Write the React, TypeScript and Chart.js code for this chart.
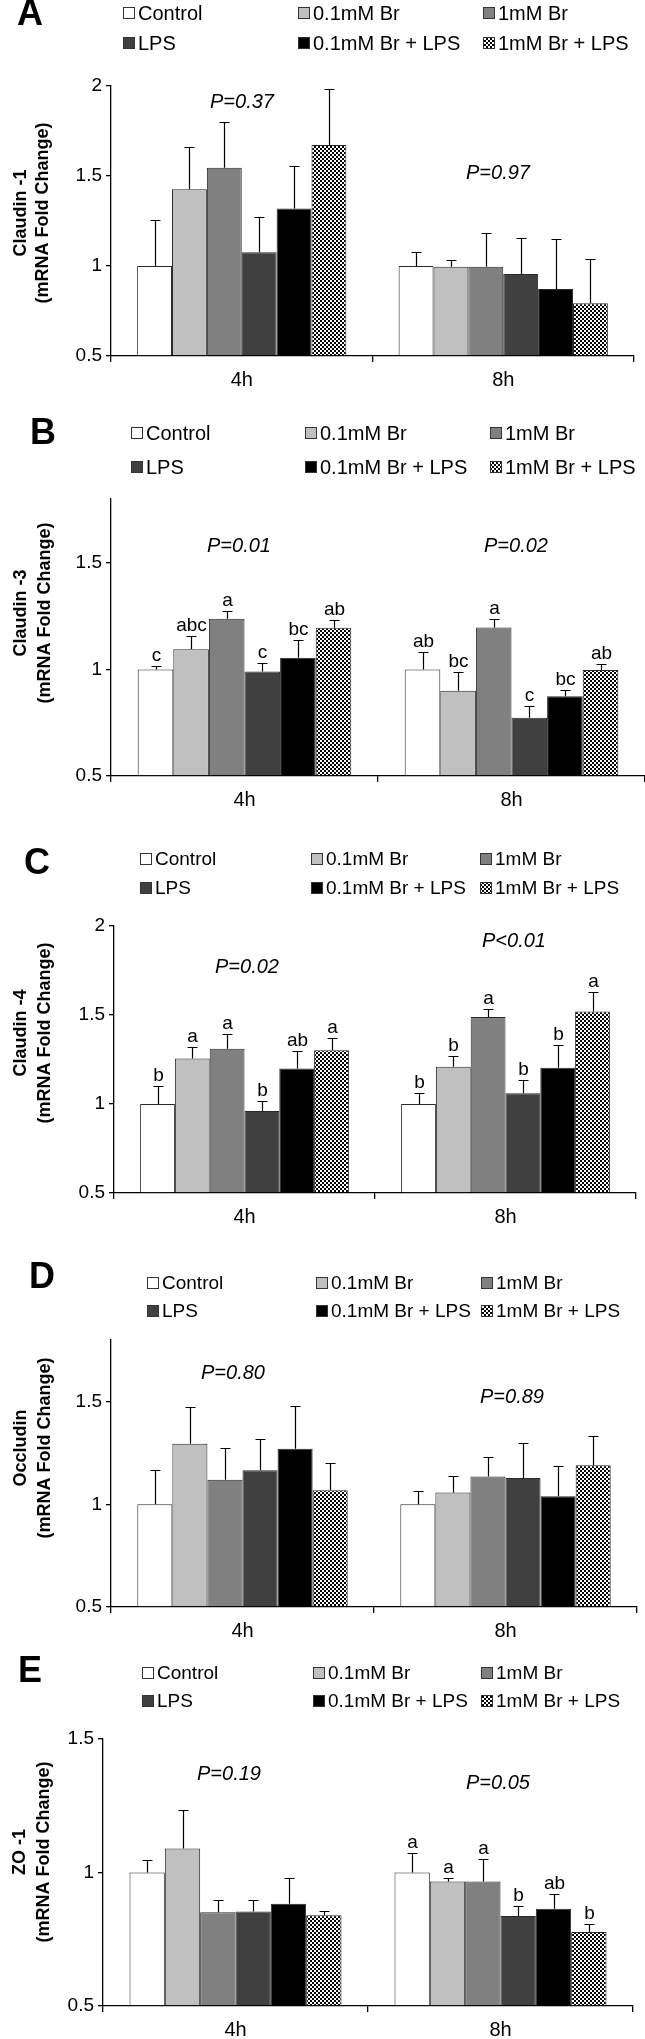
import React, { useEffect, useRef } from 'react';
import { Chart, registerables } from 'chart.js';

Chart.register(...registerables);

const FONT = "'Liberation Sans', Arial, Helvetica, sans-serif";

// ---------- shared ----------
const CATEGORIES = ['4h', '8h'];
const SERIES = ['Control', '0.1mM Br', '1mM Br', 'LPS', '0.1mM Br + LPS', '1mM Br + LPS'];
const SERIES_COLORS = ['#FFFFFF', '#C0C0C0', '#808080', '#404040', '#000000', 'checker'];

// ---------- A: Claudin-1 ----------
const CLDN1_MEAN_4H = [1.0, 1.426, 1.546, 1.076, 1.319, 1.672];
const CLDN1_SE_4H = [0.256, 0.237, 0.254, 0.198, 0.238, 0.309];
const CLDN1_MEAN_8H = [1.0, 0.996, 0.996, 0.956, 0.872, 0.793];
const CLDN1_SE_8H = [0.076, 0.035, 0.185, 0.2, 0.278, 0.244];
const CLDN1_LETTERS_4H = ['', '', '', '', '', ''];
const CLDN1_LETTERS_8H = ['', '', '', '', '', ''];
const CLDN1_P = ['P=0.37', 'P=0.97'];
const CLDN1_TICKS = [0.5, 1, 1.5, 2];

// ---------- B: Claudin-3 ----------
const CLDN3_MEAN_4H = [1.0, 1.095, 1.238, 0.99, 1.055, 1.196];
const CLDN3_SE_4H = [0.016, 0.063, 0.035, 0.04, 0.081, 0.037];
const CLDN3_MEAN_8H = [1.0, 0.9, 1.197, 0.773, 0.874, 0.997];
const CLDN3_SE_8H = [0.08, 0.09, 0.038, 0.057, 0.031, 0.03];
const CLDN3_LETTERS_4H = ['c', 'abc', 'a', 'c', 'bc', 'ab'];
const CLDN3_LETTERS_8H = ['ab', 'bc', 'a', 'c', 'bc', 'ab'];
const CLDN3_P = ['P=0.01', 'P=0.02'];
const CLDN3_TICKS = [0.5, 1, 1.5];

// ---------- C: Claudin-4 ----------
const CLDN4_MEAN_4H = [1.0, 1.256, 1.31, 0.96, 1.2, 1.302];
const CLDN4_SE_4H = [0.1, 0.064, 0.083, 0.057, 0.095, 0.066];
const CLDN4_MEAN_8H = [1.0, 1.209, 1.489, 1.06, 1.204, 1.519];
const CLDN4_SE_8H = [0.06, 0.059, 0.046, 0.076, 0.129, 0.111];
const CLDN4_LETTERS_4H = ['b', 'a', 'a', 'b', 'ab', 'a'];
const CLDN4_LETTERS_8H = ['b', 'b', 'a', 'b', 'b', 'a'];
const CLDN4_P = ['P=0.02', 'P<0.01'];
const CLDN4_TICKS = [0.5, 1, 1.5, 2];

// ---------- D: Occludin ----------
const OCLN_MEAN_4H = [1.0, 1.295, 1.12, 1.166, 1.27, 1.068];
const OCLN_SE_4H = [0.166, 0.179, 0.156, 0.154, 0.209, 0.132];
const OCLN_MEAN_8H = [1.0, 1.058, 1.136, 1.128, 1.039, 1.19];
const OCLN_SE_8H = [0.067, 0.082, 0.094, 0.172, 0.149, 0.143];
const OCLN_LETTERS_4H = ['', '', '', '', '', ''];
const OCLN_LETTERS_8H = ['', '', '', '', '', ''];
const OCLN_P = ['P=0.80', 'P=0.89'];
const OCLN_TICKS = [0.5, 1, 1.5];

// ---------- E: ZO-1 ----------
const ZO1_MEAN_4H = [1.0, 1.09, 0.851, 0.854, 0.8825, 0.84];
const ZO1_SE_4H = [0.048, 0.145, 0.047, 0.044, 0.098, 0.014];
const ZO1_MEAN_8H = [1.0, 0.966, 0.966, 0.8375, 0.864, 0.7775];
const ZO1_SE_8H = [0.073, 0.014, 0.085, 0.037, 0.056, 0.028];
const ZO1_LETTERS_4H = ['', '', '', '', '', ''];
const ZO1_LETTERS_8H = ['a', 'a', 'a', 'b', 'ab', 'b'];
const ZO1_P = ['P=0.19', 'P=0.05'];
const ZO1_TICKS = [0.5, 1, 1.5];

type Panel = {
  letter: string;
  title: string[];
  means: number[][];
  errs: number[][];
  letters: string[][];
  pTexts: string[];
  ticks: number[];
  max: number;
  // layout
  top: number;
  height: number;
  chartTop: number;
  chartBottom: number;
  left: number;
  right: number;
  letterPos: [number, number];
  legendX: number[];
  legendY: number[];
  legendFont: number;
  titleX: number[];
  titleY: number;
  pPos: [number, number][];
};

const PANELS: Panel[] = [
  {
    letter: 'A', title: ['Claudin -1', '(mRNA Fold Change)'],
    means: [CLDN1_MEAN_4H, CLDN1_MEAN_8H], errs: [CLDN1_SE_4H, CLDN1_SE_8H],
    letters: [CLDN1_LETTERS_4H, CLDN1_LETTERS_8H], pTexts: CLDN1_P, ticks: CLDN1_TICKS, max: 2,
    top: 0, height: 420, chartTop: 86, chartBottom: 356, left: 111, right: 634,
    letterPos: [30, 15], legendX: [123, 298, 483], legendY: [13, 43], legendFont: 20,
    titleX: [21, 43], titleY: 213, pPos: [[242, 102], [498, 173]],
  },
  {
    letter: 'B', title: ['Claudin -3', '(mRNA Fold Change)'],
    means: [CLDN3_MEAN_4H, CLDN3_MEAN_8H], errs: [CLDN3_SE_4H, CLDN3_SE_8H],
    letters: [CLDN3_LETTERS_4H, CLDN3_LETTERS_8H], pTexts: CLDN3_P, ticks: CLDN3_TICKS, max: 1.8,
    top: 410, height: 420, chartTop: 89, chartBottom: 366, left: 111, right: 645,
    letterPos: [43, 24], legendX: [131, 305, 490], legendY: [23, 57], legendFont: 20,
    titleX: [21, 45], titleY: 203, pPos: [[239, 136], [516, 136]],
  },
  {
    letter: 'C', title: ['Claudin -4', '(mRNA Fold Change)'],
    means: [CLDN4_MEAN_4H, CLDN4_MEAN_8H], errs: [CLDN4_SE_4H, CLDN4_SE_8H],
    letters: [CLDN4_LETTERS_4H, CLDN4_LETTERS_8H], pTexts: CLDN4_P, ticks: CLDN4_TICKS, max: 2,
    top: 820, height: 420, chartTop: 106, chartBottom: 373, left: 114, right: 636,
    letterPos: [37, 44], legendX: [140, 311, 480], legendY: [39, 68], legendFont: 19,
    titleX: [21, 45], titleY: 213, pPos: [[247, 147], [514, 121]],
  },
  {
    letter: 'D', title: ['Occludin', '(mRNA Fold Change)'],
    means: [OCLN_MEAN_4H, OCLN_MEAN_8H], errs: [OCLN_SE_4H, OCLN_SE_8H],
    letters: [OCLN_LETTERS_4H, OCLN_LETTERS_8H], pTexts: OCLN_P, ticks: OCLN_TICKS, max: 1.8,
    top: 1230, height: 420, chartTop: 110, chartBottom: 377, left: 111, right: 637,
    letterPos: [42, 48], legendX: [147, 316, 481], legendY: [53, 81], legendFont: 19,
    titleX: [21, 45], titleY: 218, pPos: [[233, 143], [512, 167]],
  },
  {
    letter: 'E', title: ['ZO -1', '(mRNA Fold Change)'],
    means: [ZO1_MEAN_4H, ZO1_MEAN_8H], errs: [ZO1_SE_4H, ZO1_SE_8H],
    letters: [ZO1_LETTERS_4H, ZO1_LETTERS_8H], pTexts: ZO1_P, ticks: ZO1_TICKS, max: 1.5,
    top: 1630, height: 409, chartTop: 109, chartBottom: 376, left: 103, right: 633,
    letterPos: [30, 42], legendX: [142, 313, 481], legendY: [43, 71], legendFont: 19,
    titleX: [20, 44], titleY: 222, pPos: [[229, 144], [498, 153]],
  },
];

function makeChecker(): CanvasPattern | string {
  const c = document.createElement('canvas');
  c.width = 4;
  c.height = 4;
  const g = c.getContext('2d');
  if (!g) return '#808080';
  g.fillStyle = '#FFFFFF';
  g.fillRect(0, 0, 4, 4);
  g.fillStyle = '#000000';
  g.fillRect(0, 0, 2, 2);
  g.fillRect(2, 2, 2, 2);
  const pat = g.createPattern(c, 'repeat');
  return pat || '#808080';
}

function PanelChart({ panel }: { panel: Panel }) {
  const ref = useRef<HTMLCanvasElement | null>(null);

  useEffect(() => {
    const canvas = ref.current;
    if (!canvas) return;
    const checker = makeChecker();
    const colors = SERIES_COLORS.map((c) => (c === 'checker' ? checker : c));

    const overlay = {
      id: 'overlay' + panel.letter,
      afterDatasetsDraw(chart: any) {
        const ctx: CanvasRenderingContext2D = chart.ctx;
        const ys = chart.scales.y;
        ctx.save();
        // error bars + significance letters
        chart.data.datasets.forEach((_ds: any, i: number) => {
          const meta = chart.getDatasetMeta(i);
          meta.data.forEach((bar: any, j: number) => {
            const mean = panel.means[j][i];
            const err = panel.errs[j][i];
            const x = Math.round(bar.x) + 0.5;
            const y0 = ys.getPixelForValue(mean);
            const y1 = Math.round(ys.getPixelForValue(mean + err)) + 0.5;
            ctx.strokeStyle = '#000';
            ctx.lineWidth = 1.2;
            ctx.beginPath();
            ctx.moveTo(x, y0);
            ctx.lineTo(x, y1);
            ctx.moveTo(x - 5, y1);
            ctx.lineTo(x + 5, y1);
            ctx.stroke();
            const lt = panel.letters[j][i];
            if (lt) {
              ctx.fillStyle = '#000';
              ctx.font = `19px ${FONT}`;
              ctx.textAlign = 'center';
              ctx.textBaseline = 'alphabetic';
              ctx.fillText(lt, x, y1 - 6);
            }
          });
        });
        ctx.restore();
      },
      afterDraw(chart: any) {
        const ctx: CanvasRenderingContext2D = chart.ctx;
        ctx.save();
        // panel letter
        ctx.fillStyle = '#000';
        ctx.font = `bold 36px ${FONT}`;
        ctx.textAlign = 'center';
        ctx.textBaseline = 'middle';
        ctx.fillText(panel.letter, panel.letterPos[0], panel.letterPos[1]);
        // legend
        SERIES.forEach((name, i) => {
          const col = i % 3;
          const row = Math.floor(i / 3);
          const bx = panel.legendX[col];
          const by = panel.legendY[row];
          ctx.fillStyle = colors[i] as any;
          ctx.fillRect(bx, by - 6, 12, 12);
          ctx.strokeStyle = '#333';
          ctx.lineWidth = 1;
          ctx.strokeRect(bx + 0.5, by - 5.5, 11, 11);
          ctx.fillStyle = '#000';
          ctx.font = `${panel.legendFont}px ${FONT}`;
          ctx.textAlign = 'left';
          ctx.textBaseline = 'middle';
          ctx.fillText(name, bx + 15, by + 1);
        });
        // y title
        ctx.font = `bold 18px ${FONT}`;
        ctx.textAlign = 'center';
        ctx.textBaseline = 'middle';
        panel.title.forEach((t, k) => {
          ctx.save();
          ctx.translate(panel.titleX[k], panel.titleY);
          ctx.rotate(-Math.PI / 2);
          ctx.fillText(t, 0, 0);
          ctx.restore();
        });
        // P values
        ctx.font = `italic 20px ${FONT}`;
        panel.pTexts.forEach((t, k) => {
          ctx.fillText(t, panel.pPos[k][0], panel.pPos[k][1]);
        });
        ctx.restore();
      },
    };

    const chart = new Chart(canvas, {
      type: 'bar',
      data: {
        labels: CATEGORIES,
        datasets: SERIES.map((name, i) => ({
          label: name,
          data: [panel.means[0][i], panel.means[1][i]],
          backgroundColor: colors[i] as any,
          borderColor: '#2a2a2a',
          borderWidth: 1,
          categoryPercentage: 0.8,
          barPercentage: 1.0,
          base: 0.5,
        })),
      },
      options: {
        responsive: false,
        animation: false,
        devicePixelRatio: 1,
        events: [],
        layout: {
          padding: { top: panel.chartTop, right: 645 - panel.right, bottom: 0, left: 0 },
        },
        plugins: {
          legend: { display: false },
          tooltip: { enabled: false },
          title: { display: false },
        },
        scales: {
          x: {
            offset: true,
            grid: {
              display: true,
              offset: true,
              drawOnChartArea: false,
              drawTicks: true,
              tickLength: 6,
              color: '#000',
              lineWidth: 1.3,
            },
            border: { display: true, color: '#000', width: 1.3 },
            ticks: { color: '#000', font: { family: FONT, size: 20 }, padding: 6 },
            afterFit: (s: any) => {
              s.height = panel.height - panel.chartBottom;
            },
          },
          y: {
            min: 0.5,
            max: panel.max,
            afterBuildTicks: (s: any) => {
              s.ticks = panel.ticks.map((v) => ({ value: v }));
            },
            afterFit: (s: any) => {
              s.width = panel.left;
            },
            grid: {
              display: true,
              drawOnChartArea: false,
              drawTicks: true,
              tickLength: 5,
              color: '#000',
              lineWidth: 1.3,
            },
            border: { display: true, color: '#000', width: 1.3 },
            ticks: {
              color: '#000',
              font: { family: FONT, size: 19 },
              padding: 4,
              callback: (v: any) => String(v),
            },
          },
        },
      },
      plugins: [overlay],
    });
    return () => chart.destroy();
  }, [panel]);

  return (
    <canvas
      ref={ref}
      width={645}
      height={panel.height}
      style={{ position: 'absolute', left: 0, top: panel.top, width: 645, height: panel.height }}
    />
  );
}

export default function App() {
  return (
    <div
      style={{
        position: 'absolute',
        left: 0,
        top: 0,
        width: 645,
        height: 2039,
        background: '#FFFFFF',
        overflow: 'hidden',
      }}
    >
      {PANELS.map((p) => (
        <PanelChart key={p.letter} panel={p} />
      ))}
    </div>
  );
}
